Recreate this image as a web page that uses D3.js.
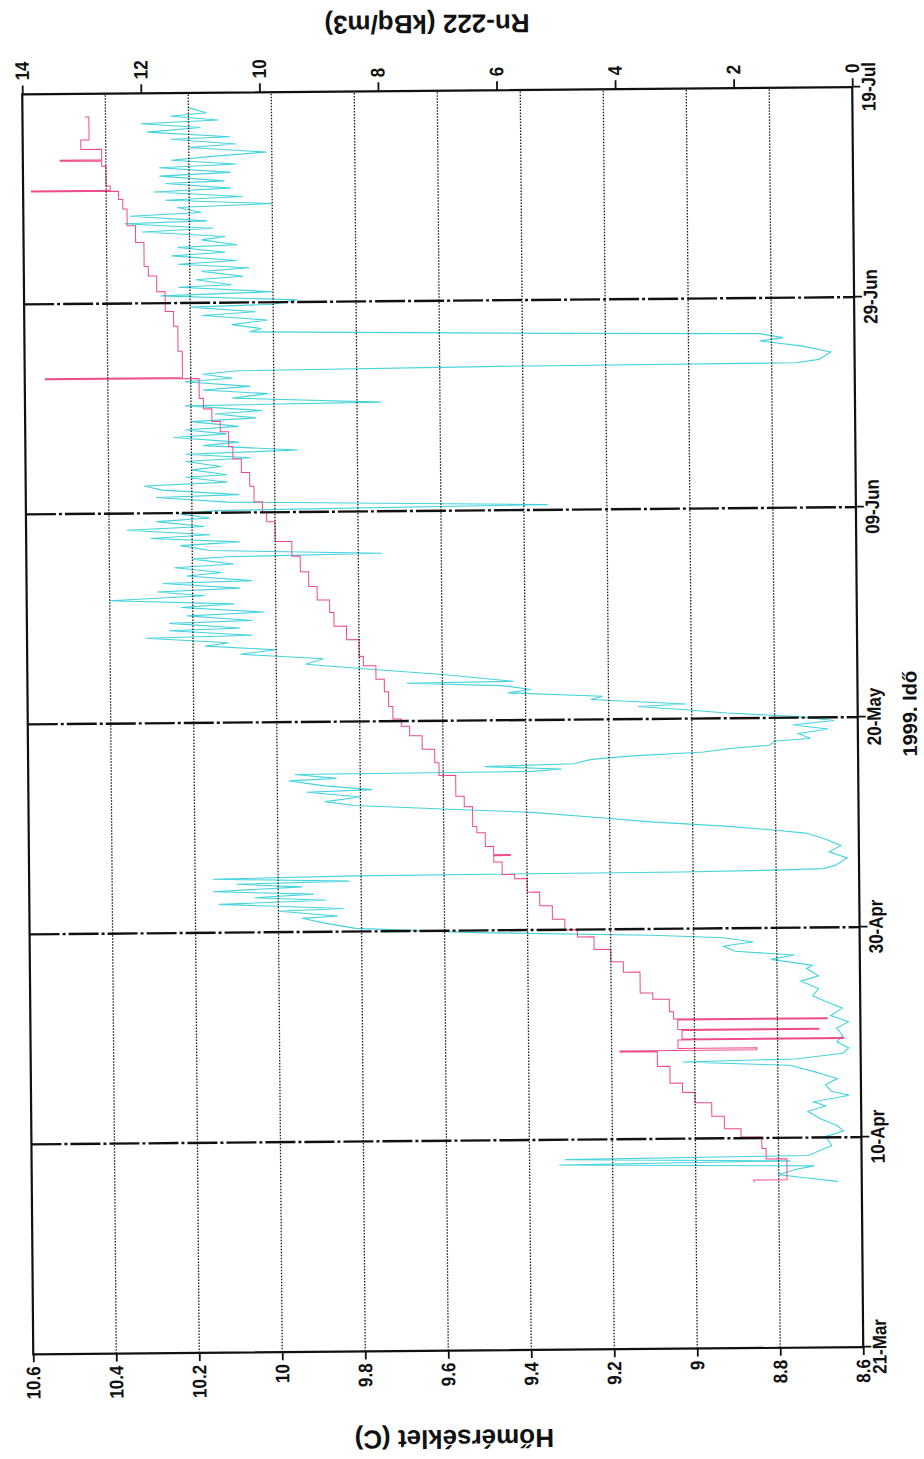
<!DOCTYPE html>
<html>
<head>
<meta charset="utf-8">
<script src="https://cdn.jsdelivr.net/npm/d3@7"></script>
<style>
  body { margin: 0; background: #fff; }
  svg { display: block; }
  text { font-family: "Liberation Sans", Arial, sans-serif; fill: #111; }
</style>
</head>
<body>
<svg id="chart" width="924" height="1459"></svg>
<script>
// time ticks (bottom axis of the original chart)
const dateTicks = ['1999-03-21', '1999-04-10', '1999-04-30', '1999-05-20', '1999-06-09', '1999-06-29', '1999-07-19'];
const dateLabels = ['21-Mar', '10-Apr', '30-Apr', '20-May', '09-Jun', '29-Jun', '19-Jul'];
// left axis: temperature
const tempTicks = [8.6, 8.8, 9.0, 9.2, 9.4, 9.6, 9.8, 10.0, 10.2, 10.4, 10.6];
const tempLabels = ['8.6', '8.8', '9', '9.2', '9.4', '9.6', '9.8', '10', '10.2', '10.4', '10.6'];
// right axis: radon
const radonTicks = [0, 2, 4, 6, 8, 10, 12, 14];

// temperature, days after 21-Mar
const tempDays = [15.8, 16.0, 18.0, 19.0, 20.1, 20.9, 22.1, 23.4, 24.4, 25.3, 26.9, 28.3, 28.4, 28.6, 29.4, 29.5, 30.3, 30.4, 31.3, 31.4,
  32.1, 33.3, 33.9, 35.9, 36.9, 38.1, 39.3, 40.0, 41.0, 42.3, 43.6, 44.9, 45.3, 46.5, 47.1, 47.2, 48.0, 49.3, 49.9, 51.8,
  52.8, 54.8, 56.0, 57.3, 58.6, 59.5, 60.2, 61.4, 62.8, 64.0, 65.3, 66.2, 67.8, 69.1, 70.4, 71.6, 72.9, 74.3, 75.8, 77.2,
  79.1, 80.0, 81.0, 82.5, 83.8, 85.1, 86.3, 87.7, 88.7, 89.9, 90.9, 92.8, 92.9, 95.4, 97.8, 99.2, 101.1, 102.6, 103.5, 105.8,
  107.4, 109.0, 109.9, 110.7, 110.8, 111.2, 113.1, 113.6, 113.7, 114.7, 115.6, 117.8];
const tempValues = [8.86, 8.78, 8.83, 8.84, 8.89, 8.93, 8.96, 9.00, 9.03, 9.06, 9.09, 9.18, 8.85, 9.04, 8.64, 9.03, 8.70, 9.04, 8.68, 9.05,
  9.06, 9.10, 9.13, 9.17, 9.20, 9.24, 9.28, 9.31, 9.34, 9.37, 9.40, 9.43, 9.46, 9.48, 9.44, 9.48, 9.50, 9.52, 9.53, 9.55,
  9.57, 9.61, 9.62, 9.65, 9.68, 9.70, 9.72, 9.73, 9.74, 9.76, 9.79, 9.80, 9.83, 9.86, 9.87, 9.90, 9.92, 9.94, 9.96, 10.00,
  10.02, 10.03, 10.05, 10.06, 10.08, 10.10, 10.11, 10.13, 10.15, 10.17, 10.18, 10.55, 10.22, 10.23, 10.24, 10.26, 10.28, 10.30, 10.31, 10.33,
  10.35, 10.36, 10.37, 10.58, 10.39, 10.40, 10.41, 10.51, 10.41, 10.46, 10.44, 10.45];

// radon, days after 21-Mar
const radonDays = [15.8, 16.2, 16.5, 17.0, 17.3, 17.6, 17.8, 18.1, 18.3, 19.0, 19.2, 20.1, 20.6, 21.1, 21.8, 22.5, 23.0, 23.4, 24.0, 24.4,
  25.0, 25.6, 26.3, 26.9, 27.3, 27.5, 28.0, 28.5, 29.1, 29.7, 30.4, 31.0, 31.6, 32.3, 33.0, 33.5, 34.2, 34.9, 35.4, 36.1,
  36.4, 37.0, 37.4, 37.8, 38.3, 38.7, 39.1, 39.4, 39.8, 40.3, 40.8, 41.3, 41.5, 42.0, 42.2, 42.7, 43.0, 43.3, 43.6, 43.9,
  44.3, 44.6, 44.8, 45.1, 45.3, 45.4, 45.5, 45.6, 45.9, 46.6, 47.2, 47.8, 48.5, 49.0, 49.3, 49.7, 50.2, 50.6, 51.2, 51.6,
  52.0, 52.4, 52.8, 53.3, 53.5, 53.9, 54.4, 54.6, 55.0, 55.1, 55.3, 55.6, 55.8, 56.2, 56.5, 56.8, 57.1, 57.4, 57.8, 58.0,
  58.5, 58.9, 59.3, 59.7, 60.1, 60.5, 60.8, 61.2, 61.4, 61.9, 62.2, 62.6, 62.9, 63.3, 63.6, 63.7, 64.4, 65.1, 65.5, 66.0,
  66.5, 66.9, 67.3, 67.6, 68.1, 68.3, 68.8, 69.0, 69.5, 69.7, 70.2, 70.5, 71.0, 71.3, 71.7, 72.1, 72.5, 72.8, 73.3, 73.5,
  74.0, 74.3, 74.8, 75.1, 75.6, 75.8, 76.0, 76.4, 76.9, 77.2, 77.6, 77.9, 78.4, 78.7, 79.2, 79.5, 79.9, 80.2, 80.5, 81.0,
  81.5, 81.7, 82.2, 82.6, 82.9, 83.4, 83.6, 84.1, 84.4, 84.9, 85.2, 85.6, 85.9, 86.4, 86.7, 87.2, 87.5, 87.9, 88.2, 88.7,
  89.0, 89.4, 89.7, 90.2, 90.4, 90.9, 91.3, 91.7, 92.0, 92.5, 92.8, 93.2, 93.5, 93.7, 93.8, 94.1, 94.8, 95.4, 95.9, 96.2,
  96.6, 96.8, 97.2, 97.5, 97.9, 98.3, 98.8, 99.1, 99.6, 99.8, 100.2, 100.7, 101.0, 101.5, 101.7, 102.2, 102.5, 103.0, 103.3, 103.7,
  104.0, 104.5, 104.8, 105.3, 105.5, 106.0, 106.3, 106.8, 107.1, 107.6, 107.8, 108.3, 108.6, 109.1, 109.4, 109.8, 110.1, 110.6, 110.9, 111.4,
  111.6, 112.1, 112.4, 112.9, 113.2, 113.6, 113.9, 114.3, 114.8, 115.1, 115.6, 115.8, 116.3, 116.7, 117.1, 117.4, 117.8, 118.1, 118.6];
const radonValues = [0.4, 1.0, 1.4, 1.1, 0.8, 5.1, 1.2, 5.0, 0.9, 0.6, 0.5, 0.6, 0.3, 0.4, 0.7, 0.9, 0.6, 0.8, 0.2, 0.5,
  0.6, 0.4, 0.8, 1.2, 3.0, 1.1, 0.3, 0.2, 0.4, 0.3, 0.4, 0.2, 0.5, 0.3, 0.6, 0.8, 0.7, 1.0, 0.7, 0.9,
  0.8, 1.5, 1.1, 2.1, 2.3, 1.8, 2.3, 3.5, 6.5, 8.5, 9.0, 9.4, 8.8, 9.8, 8.7, 10.8, 9.0, 10.2, 9.2, 10.9,
  9.4, 10.5, 8.6, 10.9, 8.5, 3.0, 1.4, 0.6, 0.4, 0.2, 0.5, 0.3, 0.6, 0.9, 1.4, 2.2, 3.5, 4.3, 5.5, 7.0,
  8.5, 9.0, 8.4, 9.3, 8.2, 9.0, 9.6, 8.8, 9.5, 5.5, 5.0, 6.3, 4.8, 4.5, 3.8, 2.6, 2.2, 1.5, 1.4, 0.8,
  1.0, 0.5, 1.1, 0.4, 1.0, 2.2, 2.8, 3.7, 2.9, 4.5, 4.3, 5.9, 5.5, 6.0, 7.6, 5.8, 7.0, 8.5, 9.3, 9.0,
  10.4, 9.8, 11.0, 10.6, 12.0, 10.2, 11.6, 10.4, 11.6, 10.2, 11.3, 10.0, 11.4, 10.5, 12.6, 11.0, 11.8, 10.4, 11.7, 10.2,
  11.3, 10.7, 11.5, 10.5, 11.2, 10.6, 8.0, 10.9, 11.4, 10.4, 11.9, 10.9, 12.3, 11.0, 11.8, 10.9, 11.4, 10.8, 5.2, 10.6,
  11.8, 10.4, 11.7, 12.0, 10.6, 11.3, 10.6, 11.2, 10.7, 11.3, 10.2, 11.3, 9.4, 11.0, 10.4, 11.5, 10.6, 11.3, 10.4, 11.2,
  10.1, 10.8, 10.0, 11.3, 8.0, 10.5, 9.9, 11.0, 10.2, 11.3, 10.5, 11.0, 10.4, 6.0, 1.0, 0.6, 0.4, 0.9, 1.6, 1.2,
  1.6, 5.0, 10.2, 10.0, 10.5, 9.9, 11.0, 10.1, 11.2, 9.8, 9.4, 11.7, 9.8, 11.4, 10.5, 11.1, 10.3, 11.0, 10.2, 11.4,
  10.4, 11.5, 10.6, 11.4, 10.4, 11.0, 10.6, 12.0, 10.8, 12.3, 10.9, 12.2, 11.0, 11.4, 9.8, 11.6, 10.3, 11.8, 10.5, 11.6,
  10.6, 11.7, 10.5, 11.7, 10.4, 11.5, 10.9, 9.9, 11.2, 10.4, 11.5, 10.5, 11.9, 11.0, 12.0, 10.7, 11.5, 10.9, 11.2];

const W = 1260; // time direction of the printed chart
const H = 830;  // value direction

const svg = d3.select('#chart');
// the printed page was scanned turned on its side and slightly crooked
const g = svg.append('g')
    .attr('transform', 'translate(442.75,720.75) rotate(-90.5)');

const t0 = Date.UTC(1999, 2, 21);
const toDate = d => new Date(t0 + d * 864e5);
const parse = d3.utcParse('%Y-%m-%d');
const tickDates = dateTicks.map(parse);

const x = d3.scaleUtc().domain([toDate(0), toDate(120)]).range([-W / 2, W / 2]);
const yT = d3.scaleLinear().domain([8.6, 10.6]).range([H / 2, -H / 2]);
const yR = d3.scaleLinear().domain([0, 14]).range([H / 2, -H / 2]);

// data lines
const radon = radonDays.map((d, i) => [toDate(d), radonValues[i]]);
const temp = tempDays.map((d, i) => [toDate(d), tempValues[i]]);

g.append('path')
    .datum(radon)
    .attr('fill', 'none')
    .attr('stroke', '#45d3dc')
    .attr('stroke-width', 1.1)
    .attr('d', d3.line().x(d => x(d[0])).y(d => yR(d[1])));

g.append('path')
    .datum(temp)
    .attr('fill', 'none')
    .attr('stroke', '#ee4a8c')
    .attr('stroke-width', 1)
    .attr('d', d3.line().curve(d3.curveStepAfter).x(d => x(d[0])).y(d => yT(d[1])));

// temperature grid, dotted
g.append('g').selectAll('line')
    .data(tempTicks.slice(1, -1))
    .join('line')
    .attr('x1', -W / 2).attr('x2', W / 2)
    .attr('y1', d => yT(d)).attr('y2', d => yT(d))
    .attr('stroke', '#1a1a1a')
    .attr('stroke-width', 1.3)
    .attr('stroke-dasharray', '1.5,1.5');

// date grid, dashed and heavier
g.append('g').selectAll('line')
    .data(tickDates.slice(1, -1))
    .join('line')
    .attr('x1', d => x(d)).attr('x2', d => x(d))
    .attr('y1', -H / 2).attr('y2', H / 2)
    .attr('stroke', '#111')
    .attr('stroke-width', 2.4)
    .attr('stroke-dasharray', '30,3,3,3');

// frame
g.append('rect')
    .attr('x', -W / 2).attr('y', -H / 2)
    .attr('width', W).attr('height', H)
    .attr('fill', 'none')
    .attr('stroke', '#111')
    .attr('stroke-width', 2.2);

// axes; the scan is a little wider than tall, so the glyphs get stretched
const styleAxis = sel => {
    sel.select('.domain').remove();
    sel.selectAll('.tick line').attr('stroke', '#111').attr('stroke-width', 1.8);
    sel.selectAll('.tick text')
        .attr('font-size', 17)
        .attr('font-weight', 'bold')
        .attr('font-family', '"Liberation Sans", Arial, sans-serif')
        .attr('fill', '#111')
        .attr('transform', 'scale(1,1.15)');
};

g.append('g')
    .attr('transform', `translate(0,${H / 2})`)
    .call(d3.axisBottom(x).tickValues(tickDates)
        .tickFormat((d, i) => dateLabels[i]).tickSize(8).tickPadding(0))
    .call(styleAxis);

g.append('g')
    .attr('transform', `translate(${-W / 2},0)`)
    .call(d3.axisLeft(yT).tickValues(tempTicks)
        .tickFormat((d, i) => tempLabels[i]).tickSize(8).tickPadding(4))
    .call(styleAxis);

g.append('g')
    .attr('transform', `translate(${W / 2},0)`)
    .call(d3.axisRight(yR).tickValues(radonTicks)
        .tickFormat(d3.format('d')).tickSize(9).tickPadding(5))
    .call(styleAxis);

// titles
g.append('text')
    .attr('transform', 'translate(705.75,-9.75) rotate(-90)')
    .attr('text-anchor', 'middle')
    .attr('font-size', 26)
    .attr('font-weight', 'bold')
    .text('Rn-222 (kBq/m3)');

g.append('text')
    .attr('transform', 'translate(-709.25,5.25) rotate(-90)')
    .attr('text-anchor', 'middle')
    .attr('font-size', 26)
    .attr('font-weight', 'bold')
    .text('Hőmérséklet (C)');

g.append('text')
    .attr('x', 3).attr('y', 474)
    .attr('text-anchor', 'middle')
    .attr('font-size', 20)
    .attr('font-weight', 'bold')
    .text('1999. Idő');
</script>
</body>
</html>
